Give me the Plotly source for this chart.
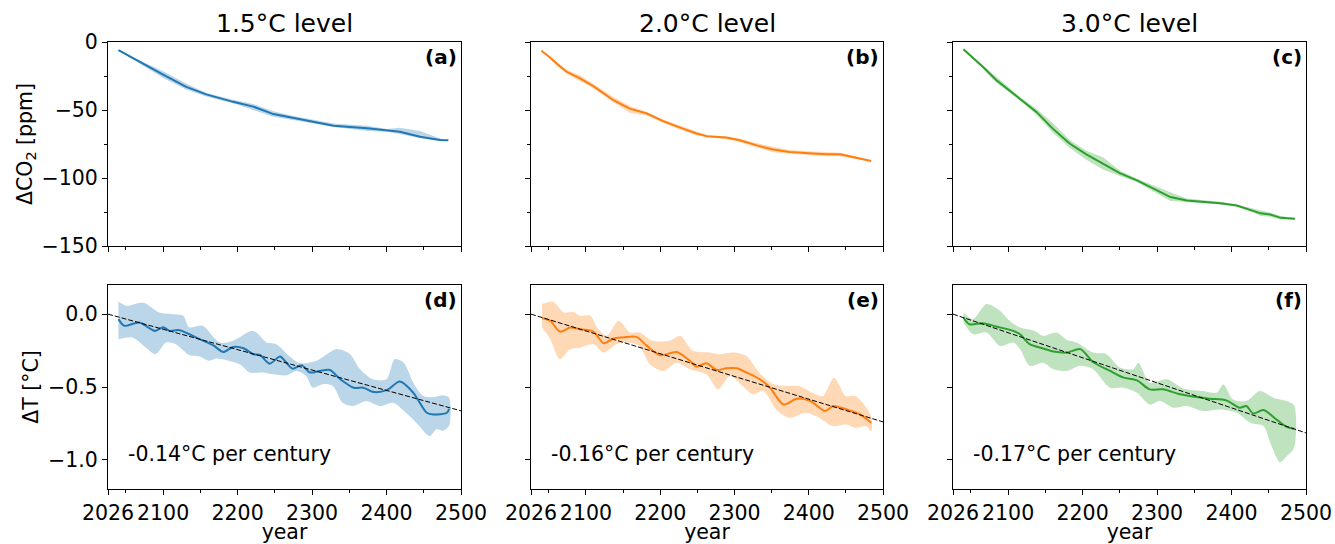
import plotly.graph_objects as go

# ---------------- data ----------------
titles = ["1.5°C level", "2.0°C level", "3.0°C level"]
colors = ["#1f77b4", "#ff7f0e", "#2ca02c"]
band_colors = ["rgba(31,119,180,0.3)", "rgba(255,127,14,0.3)", "rgba(44,160,44,0.3)"]
top_labels = ["(a)", "(b)", "(c)"]
bot_labels = ["(d)", "(e)", "(f)"]
trend_text = ["-0.14°C per century", "-0.16°C per century", "-0.17°C per century"]
trend_slope_per_century = [-0.14, -0.156, -0.172]
trend_value_2026 = [0.0, 0.0, 0.0]

# CO2 panels
co2_a_year = [2040, 2068, 2100, 2131, 2158, 2194, 2221, 2248, 2275, 2302, 2329, 2374, 2401, 2418, 2445, 2472, 2483]
co2_a_mean = [-5.9, -14.5, -24, -33, -38.5, -44, -47.5, -53, -56, -58.6, -61.5, -63.5, -65, -66, -69.6, -72, -72.3]
co2_a_up = [-5.5, -13.5, -21.5, -30.5, -37.5, -42.5, -45.5, -51, -54.5, -57.5, -60, -61.5, -64, -63, -65.5, -71, -71.8]
co2_a_lo = [-6.3, -15.5, -26.5, -35, -40, -45, -50, -55, -57.5, -60, -62.5, -65.5, -66, -67.5, -70.5, -73, -72.8]

co2_b_year = [2040, 2052, 2062, 2074, 2092, 2110, 2137, 2159, 2182, 2204, 2227, 2249, 2263, 2289, 2307, 2330, 2352, 2374, 2406, 2424, 2442, 2460, 2484]
co2_b_mean = [-6.4, -11.5, -16.5, -21.9, -26.8, -32.4, -42.8, -49, -52.6, -58.2, -63, -67.3, -69.3, -70.3, -72.2, -76, -79, -80.8, -82, -82.6, -82.6, -84.5, -87.5]
co2_b_up = [-6.0, -10.5, -15, -20.5, -24.5, -31, -40.5, -47, -51.5, -57, -61.5, -66, -68.5, -69.5, -71, -74.5, -77, -79.5, -80.5, -81, -81.5, -83.5, -87]
co2_b_lo = [-6.8, -12.5, -18, -23.5, -29, -34, -44.5, -52, -54, -59.5, -64.5, -68.5, -70, -71.5, -73.5, -77.5, -81, -82, -83.5, -84, -84, -85.5, -88]

co2_c_year = [2040, 2066, 2084, 2116, 2138, 2160, 2183, 2205, 2228, 2250, 2273, 2295, 2318, 2340, 2362, 2385, 2407, 2430, 2439, 2452, 2466, 2485]
co2_c_mean = [-5.4, -18.2, -28, -41.5, -51.4, -63.7, -74.8, -82.6, -89.5, -96.4, -101.8, -108, -114, -116.6, -117.3, -118.5, -120.2, -124, -126, -126.9, -129.3, -130]
co2_c_up = [-5.0, -17, -26, -40.5, -49, -59.5, -72, -80, -85, -94.5, -100.5, -105.5, -110.5, -115, -116, -117.5, -119.5, -122.5, -124, -125.5, -128, -129.5]
co2_c_lo = [-5.8, -19.5, -30, -43, -53.5, -66.5, -78, -86.5, -94, -98.5, -103, -110, -117, -118, -118.5, -119.5, -121, -125.5, -128, -128.5, -130.5, -130.5]

# Temperature panels
dt_d_year = [2040, 2048, 2068, 2089, 2100, 2109, 2122, 2149, 2167, 2181, 2194, 2208, 2221, 2230, 2243, 2257, 2265, 2274, 2286, 2297, 2310, 2324, 2338, 2356, 2369, 2383, 2401, 2418, 2436, 2454, 2463, 2481, 2484]
dt_d_mean = [-0.034, -0.08, -0.057, -0.115, -0.09, -0.115, -0.11, -0.172, -0.213, -0.26, -0.225, -0.234, -0.275, -0.28, -0.34, -0.29, -0.33, -0.374, -0.35, -0.40, -0.39, -0.383, -0.447, -0.505, -0.505, -0.535, -0.52, -0.463, -0.54, -0.677, -0.688, -0.677, -0.65]
dt_d_up_year = [2040, 2051, 2073, 2095, 2113, 2127, 2135, 2153, 2176, 2194, 2221, 2239, 2252, 2270, 2284, 2306, 2333, 2351, 2364, 2382, 2400, 2411, 2423, 2436, 2449, 2463, 2476, 2484]
dt_d_up = [0.087, 0.057, 0.08, 0.011, 0.0, -0.011, -0.09, -0.08, -0.195, -0.183, -0.115, -0.195, -0.206, -0.29, -0.337, -0.32, -0.24, -0.275, -0.374, -0.447, -0.447, -0.31, -0.333, -0.47, -0.56, -0.57, -0.557, -0.573]
dt_d_lo_year = [2040, 2059, 2077, 2090, 2104, 2117, 2135, 2149, 2162, 2171, 2185, 2203, 2216, 2234, 2248, 2266, 2279, 2292, 2301, 2315, 2328, 2341, 2355, 2373, 2391, 2409, 2426, 2440, 2458, 2467, 2476, 2484]
dt_d_lo = [-0.172, -0.16, -0.23, -0.275, -0.195, -0.206, -0.28, -0.29, -0.32, -0.305, -0.316, -0.344, -0.4, -0.4, -0.413, -0.42, -0.39, -0.424, -0.505, -0.48, -0.493, -0.608, -0.63, -0.596, -0.63, -0.608, -0.677, -0.745, -0.837, -0.79, -0.8, -0.768]

dt_e_year = [2041, 2052, 2065, 2079, 2092, 2110, 2124, 2137, 2150, 2168, 2182, 2200, 2222, 2240, 2249, 2262, 2276, 2289, 2303, 2316, 2334, 2348, 2366, 2384, 2402, 2422, 2433, 2451, 2469, 2484]
dt_e_mean = [-0.028, -0.046, -0.12, -0.092, -0.103, -0.12, -0.2, -0.167, -0.16, -0.156, -0.218, -0.282, -0.26, -0.32, -0.36, -0.337, -0.383, -0.372, -0.372, -0.40, -0.447, -0.505, -0.62, -0.58, -0.596, -0.665, -0.63, -0.654, -0.688, -0.745]
dt_e_up_year = [2041, 2056, 2070, 2083, 2092, 2106, 2115, 2128, 2144, 2159, 2172, 2190, 2213, 2227, 2244, 2267, 2280, 2298, 2316, 2334, 2352, 2369, 2387, 2405, 2419, 2434, 2450, 2463, 2484]
dt_e_up = [0.069, 0.085, 0.011, 0.016, -0.011, -0.011, -0.092, -0.149, -0.046, -0.126, -0.126, -0.183, -0.183, -0.149, -0.252, -0.264, -0.275, -0.264, -0.287, -0.406, -0.48, -0.493, -0.493, -0.54, -0.562, -0.436, -0.562, -0.562, -0.7]
dt_e_lo_year = [2041, 2052, 2065, 2079, 2092, 2110, 2124, 2141, 2155, 2172, 2186, 2204, 2222, 2240, 2262, 2278, 2294, 2311, 2325, 2339, 2356, 2374, 2396, 2414, 2432, 2450, 2463, 2477, 2484]
dt_e_lo = [-0.092, -0.172, -0.31, -0.24, -0.23, -0.206, -0.264, -0.206, -0.195, -0.218, -0.344, -0.39, -0.333, -0.378, -0.413, -0.516, -0.424, -0.493, -0.55, -0.528, -0.654, -0.711, -0.677, -0.711, -0.768, -0.757, -0.78, -0.768, -0.803]

dt_f_year = [2040, 2048, 2066, 2084, 2107, 2116, 2129, 2147, 2161, 2179, 2197, 2214, 2237, 2255, 2273, 2290, 2308, 2331, 2353, 2371, 2393, 2411, 2420, 2429, 2443, 2460, 2474, 2484]
dt_f_mean = [-0.023, -0.069, -0.062, -0.085, -0.115, -0.138, -0.206, -0.236, -0.257, -0.264, -0.24, -0.328, -0.39, -0.436, -0.454, -0.516, -0.516, -0.55, -0.569, -0.58, -0.592, -0.642, -0.63, -0.681, -0.658, -0.722, -0.773, -0.787]
dt_f_up_year = [2040, 2053, 2071, 2089, 2102, 2116, 2136, 2147, 2165, 2179, 2192, 2214, 2232, 2250, 2268, 2275, 2290, 2313, 2335, 2362, 2380, 2389, 2402, 2420, 2438, 2456, 2474, 2484]
dt_f_up = [0.011, -0.034, 0.069, 0.023, -0.046, -0.092, -0.115, -0.149, -0.126, -0.177, -0.195, -0.264, -0.275, -0.367, -0.378, -0.333, -0.47, -0.447, -0.51, -0.528, -0.54, -0.482, -0.585, -0.596, -0.528, -0.573, -0.596, -0.626]
dt_f_lo_year = [2040, 2053, 2071, 2089, 2107, 2116, 2129, 2147, 2161, 2179, 2197, 2214, 2237, 2255, 2273, 2290, 2304, 2322, 2340, 2362, 2384, 2407, 2425, 2443, 2452, 2465, 2474, 2484]
dt_f_lo = [-0.057, -0.138, -0.126, -0.218, -0.195, -0.24, -0.355, -0.333, -0.378, -0.39, -0.355, -0.378, -0.505, -0.505, -0.54, -0.62, -0.596, -0.642, -0.63, -0.665, -0.654, -0.677, -0.745, -0.768, -0.883, -1.016, -0.975, -0.917]

x_ticks = [2026, 2100, 2200, 2300, 2400, 2500]
x_minor = [2050, 2150, 2250, 2350, 2450]
co2_ticks = [0, -50, -100, -150]
co2_minor = [-25, -75, -125]
dt_ticks = [0.0, -0.5, -1.0]

co2_sets = [
    (co2_a_year, co2_a_mean, co2_a_up, co2_a_lo),
    (co2_b_year, co2_b_mean, co2_b_up, co2_b_lo),
    (co2_c_year, co2_c_mean, co2_c_up, co2_c_lo),
]
dt_sets = [
    (dt_d_year, dt_d_mean, dt_d_up_year, dt_d_up, dt_d_lo_year, dt_d_lo),
    (dt_e_year, dt_e_mean, dt_e_up_year, dt_e_up, dt_e_lo_year, dt_e_lo),
    (dt_f_year, dt_f_mean, dt_f_up_year, dt_f_up, dt_f_lo_year, dt_f_lo),
]

# ---------------- layout geometry ----------------
W, H = 1335, 544
col_px = [(108, 461), (531, 883), (953, 1306)]
row_px = [(42, 246), (285, 489)]
FONT = "DejaVu Sans"
FS = 20.5

fig = go.Figure()
layout = dict(
    width=W, height=H, margin=dict(l=0, r=0, t=0, b=0),
    paper_bgcolor="white", plot_bgcolor="white", showlegend=False,
    font=dict(family=FONT, size=FS, color="black"),
)

def minus(v, fmt):
    return fmt.format(v).replace("-", "\u2212")

annotations = []
for r in range(2):
    for c in range(3):
        idx = r * 3 + c + 1
        xa = "xaxis" if idx == 1 else f"xaxis{idx}"
        ya = "yaxis" if idx == 1 else f"yaxis{idx}"
        xd = [col_px[c][0] / W, col_px[c][1] / W]
        yd = [1 - row_px[r][1] / H, 1 - row_px[r][0] / H]
        xax = dict(
            domain=xd, anchor=f"y{idx}", range=[2026, 2500], automargin=False,
            tickmode="array", tickvals=x_ticks,
            ticktext=[str(v) for v in x_ticks],
            showticklabels=(r == 1),
            ticks="outside", ticklen=5, tickwidth=1, tickcolor="black",
            minor=dict(tickvals=x_minor, ticks="outside", ticklen=3, tickwidth=0.8, tickcolor="black"),
            showline=True, linecolor="black", linewidth=1, mirror=True,
            showgrid=False, zeroline=False,
            tickfont=dict(size=FS, family=FONT),
        )
        if r == 1:
            xax["title"] = dict(text="year", font=dict(size=FS, family=FONT), standoff=0)
        layout[xa] = xax
        if r == 0:
            yax = dict(range=[-150, 0], tickvals=co2_ticks,
                       ticktext=[minus(v, "{:d}") for v in co2_ticks],
                       minor=dict(tickvals=co2_minor, ticks="outside", ticklen=3, tickwidth=0.8, tickcolor="black"))
            ytitle = "ΔCO<sub>2</sub> [ppm]"
        else:
            yax = dict(range=[-1.2, 0.2], tickvals=dt_ticks,
                       ticktext=[minus(v, "{:.1f}") for v in dt_ticks])
            ytitle = "ΔT [°C]"
        yax.update(
            domain=yd, anchor=f"x{idx}", tickmode="array", automargin=False,
            showticklabels=(c == 0),
            ticks="outside", ticklen=5, tickwidth=1, tickcolor="black",
            showline=True, linecolor="black", linewidth=1, mirror=True,
            showgrid=False, zeroline=False,
            tickfont=dict(size=FS, family=FONT),
        )
        if c == 0:
            yax["title"] = dict(text=ytitle, font=dict(size=FS, family=FONT), standoff=3)
        layout[ya] = yax

        xref = "x" if idx == 1 else f"x{idx}"
        yref = "y" if idx == 1 else f"y{idx}"

        if r == 0:
            yrs, mean, up, lo = co2_sets[c]
            fig.add_trace(go.Scatter(
                x=yrs + yrs[::-1], y=up + lo[::-1], fill="toself",
                fillcolor=band_colors[c], line=dict(width=0), mode="lines",
                xaxis=xref, yaxis=yref, hoverinfo="skip"))
            fig.add_trace(go.Scatter(
                x=yrs, y=mean, mode="lines", line=dict(color=colors[c], width=2),
                xaxis=xref, yaxis=yref))
        else:
            yrs, mean, uy, up, ly, lo = dt_sets[c]
            fig.add_trace(go.Scatter(
                x=uy + ly[::-1], y=up + lo[::-1], fill="toself",
                fillcolor=band_colors[c], line=dict(width=0, shape="spline", smoothing=0.8),
                mode="lines", xaxis=xref, yaxis=yref, hoverinfo="skip"))
            fig.add_trace(go.Scatter(
                x=yrs, y=mean, mode="lines",
                line=dict(color=colors[c], width=2, shape="spline", smoothing=0.8),
                xaxis=xref, yaxis=yref))
            tx = [2026, 2500]
            ty = [trend_value_2026[c] + trend_slope_per_century[c] * (t - 2026) / 100 for t in tx]
            fig.add_trace(go.Scatter(
                x=tx, y=ty, mode="lines", line=dict(color="black", width=1, dash="5px,2px"),
                xaxis=xref, yaxis=yref))
            annotations.append(dict(
                text=trend_text[c], xref="paper", yref="paper",
                x=(col_px[c][0] + 18) / W, y=1 - 454 / H, xanchor="left", yanchor="middle",
                showarrow=False, font=dict(size=FS, family=FONT)))

        lab = top_labels[c] if r == 0 else bot_labels[c]
        annotations.append(dict(
            text=f"<b>{lab}</b>", xref="paper", yref="paper",
            x=(col_px[c][1] - 2) / W, y=1 - (row_px[r][0] + 15) / H,
            xanchor="right", yanchor="middle", showarrow=False,
            font=dict(size=20, family=FONT)))

for c in range(3):
    annotations.append(dict(
        text=titles[c], xref="paper", yref="paper",
        x=(col_px[c][0] + col_px[c][1]) / 2 / W, y=1 - 24 / H,
        xanchor="center", yanchor="middle", showarrow=False,
        font=dict(size=25, family=FONT)))

layout["annotations"] = annotations
fig.update_layout(**layout)
fig.write_html(
    "out.html",
    config={"displayModeBar": False},
    post_script="document.body.style.margin='0';document.body.style.padding='0';document.body.style.overflow='hidden';",
)
